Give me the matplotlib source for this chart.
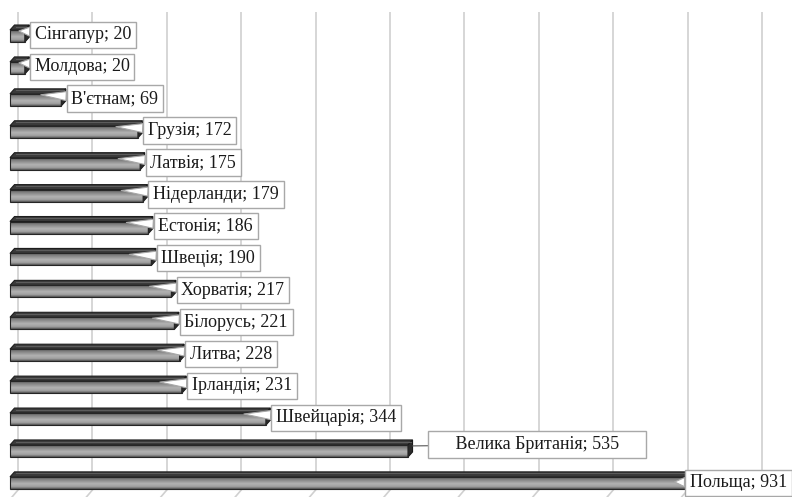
import numpy as np
import matplotlib
matplotlib.use("Agg")
import matplotlib.pyplot as plt
from matplotlib.patches import Polygon, Rectangle

countries = ['Сінгапур', 'Молдова', "В'єтнам", 'Грузія', 'Латвія', 'Нідерланди',
             'Естонія', 'Швеція', 'Хорватія', 'Білорусь', 'Литва', 'Ірландія',
             'Швейцарія', 'Велика Британія', 'Польща']
values = [20, 20, 69, 172, 175, 179, 186, 190, 217, 221, 228, 231, 344, 535, 931]
grid_values = [0, 100, 200, 300, 400, 500, 600, 700, 800, 900, 1000]

plt.rcParams['font.family'] = ['Liberation Serif', 'DejaVu Serif']

W, H = 792, 497
fig = plt.figure(figsize=(W / 100, H / 100), dpi=100)
ax = fig.add_axes([0, 0, 1, 1])
ax.set_axis_off()

sx = 0.744          # px per unit
x0px = 10           # px of value 0
sy = 31.92          # px per category
y0px = 33.5         # px of first category center
xlim = (-x0px / sx, (W - x0px) / sx)
ylim = ((H - y0px) / sy, -y0px / sy)

px_x = 1 / sx
px_y = 1 / sy

# gridlines (back wall, offset by depth)
goff = 8 * px_x
gtop = (12 - y0px) / sy
gbot = (490 - y0px) / sy
for g in grid_values:
    gx = g + goff
    ax.plot([gx, gx], [gtop, gbot], color='#d0d0d0', lw=1.2, zorder=1,
            solid_capstyle='butt')
    ax.plot([gx, gx - 6 * px_x], [gbot, gbot + 7 * px_y], color='#d0d0d0',
            lw=1.2, zorder=1)

# gradient for the front face
pos = [0.0, 0.12, 0.55, 0.82, 1.0]
vals = [0.34, 0.46, 0.70, 0.62, 0.32]
t = np.linspace(0, 1, 64)
gcol = np.interp(t, pos, vals)
grad = np.dstack([gcol, gcol, gcol]).reshape(64, 1, 3)

dx = 4.5 * px_x
dy = 5 * px_y
for i, v in enumerate(values):
    c = i
    ft = c - 3.5 * px_y     # front top (index)
    fb = c + 8.5 * px_y     # front bottom
    ax.imshow(grad, extent=[0, v, fb, ft], origin='upper', aspect='auto',
              interpolation='bilinear', zorder=2)
    ax.add_patch(Rectangle((0, ft), v, fb - ft, fill=False, ec='#262626',
                           lw=0.8, zorder=2.3))
    top = Polygon([(0, ft), (dx, ft - dy), (v + dx, ft - dy), (v, ft)],
                  closed=True, fc='#3a3a3a', ec='#1e1e1e', lw=0.8, zorder=2.2)
    ax.add_patch(top)
    ax.plot([dx + 1.5 * px_x, v + dx - 1.5 * px_x], [ft - dy + 1.6 * px_y] * 2,
            color='#5c5c5c', lw=0.8, zorder=2.25)
    cap = Polygon([(v, ft), (v + dx, ft - dy), (v + dx, fb - dy), (v, fb)],
                  closed=True, fc='#2c2c2c', ec='#1a1a1a', lw=0.8, zorder=2.2)
    ax.add_patch(cap)

box = dict(boxstyle='square,pad=0.26', fc='white', ec='#a8a8a8', lw=1.0)
wedge = dict(arrowstyle='wedge,tail_width=0.5,shrink_factor=0.5', fc='white',
             ec='#a8a8a8', lw=0.8, shrinkA=0, shrinkB=0)

FS = 13
for i, (name, v) in enumerate(zip(countries, values)):
    label = f'{name}; {v}'
    if name == 'Велика Британія':
        ax.annotate('     ' + label + '     ', xy=(v + dx, i - 0.08),
                    xytext=(v + 25 * px_x, i - 0.12), ha='left', va='center',
                    fontsize=FS, color='#1a1a1a', bbox=box, zorder=5,
                    arrowprops=dict(arrowstyle='-', color='#555555', lw=0.8,
                                    shrinkA=0, shrinkB=0))
    elif name == 'Польща':
        ax.annotate(label, xy=(v - 28 * px_x, i + 0.05),
                    xytext=(v - 13 * px_x, i + 0.08), ha='left', va='center',
                    fontsize=FS, color='#1a1a1a', bbox=box, zorder=5,
                    arrowprops=wedge)
    else:
        tip = max(v - 22 * px_x, v * 0.6)
        ax.annotate(label, xy=(tip, i - 0.08),
                    xytext=(v + 10 * px_x, i + 0.04), ha='left', va='center',
                    fontsize=FS, color='#1a1a1a', bbox=box, zorder=5,
                    arrowprops=wedge)

ax.set_xlim(*xlim)
ax.set_ylim(*ylim)
fig.savefig('out.png', dpi=100)
